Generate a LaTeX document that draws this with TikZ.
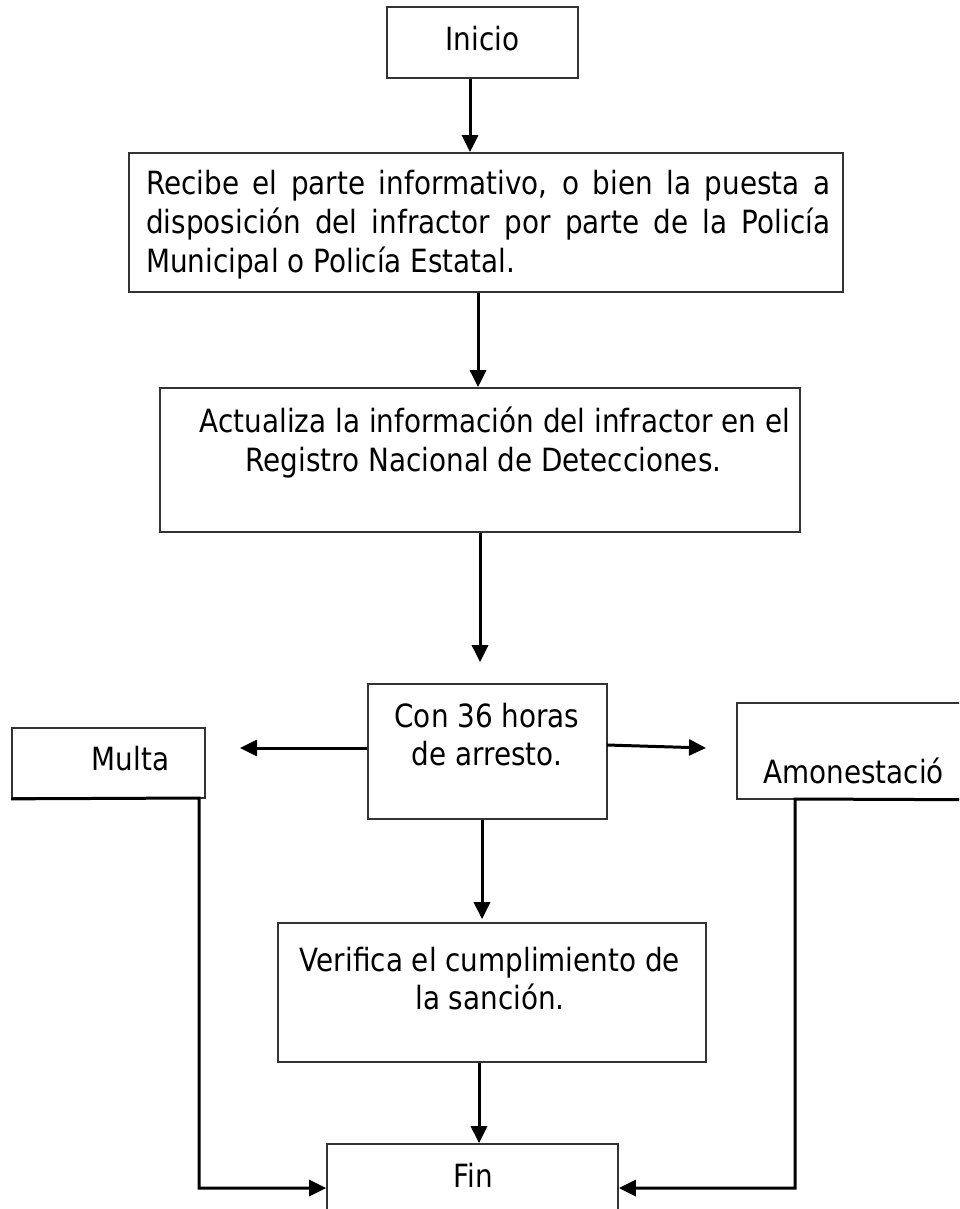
\documentclass[tikz,border=0pt]{standalone}
\usepackage{fontspec}
\setmainfont{DejaVu Sans}[FakeStretch=0.87]
\usetikzlibrary{arrows.meta}
\definecolor{boxgray}{HTML}{333333}
\begin{document}
\begin{tikzpicture}[x=1pt,y=-1pt,
  box/.style={draw=boxgray, line width=1.7pt, fill=white, inner sep=0pt},
  txt/.style={font=\fontsize{32}{38}\selectfont, inner sep=0pt, anchor=base},
  conn/.style={draw=black, line width=3pt, -{Triangle[length=17pt,width=16pt]}}]
\useasboundingbox (0,0) rectangle (959,1209);
\clip (0,0) rectangle (959,1209);
\fill[white] (0,0) rectangle (959,1209);

% boxes
\node[box, minimum width=191pt, minimum height=71pt] (inicio) at (482.5,42.5) {};
\node[box, minimum width=714pt, minimum height=139pt] (b2) at (486,222.5) {};
\node[box, minimum width=640pt, minimum height=144pt] (b3) at (480,460) {};
\node[box, minimum width=239pt, minimum height=135pt] (b4) at (487.5,751.5) {};
\node[box, minimum width=193pt, minimum height=70pt] (multa) at (108.5,763) {};
\node[box, minimum width=263pt, minimum height=96pt] (amon) at (868.5,751) {};
\node[box, minimum width=428pt, minimum height=139pt] (b5) at (492,992.5) {};
\node[box, minimum width=291pt, minimum height=90pt] (fin) at (472.5,1189) {};

% texts
\node[txt] (tinicio) at (482.5,51) {Inicio};
\node[txt, anchor=base west] (t2a) at (146,194) {\makebox[684pt][s]{Recibe el parte informativo, o bien la puesta a}};
\node[txt, anchor=base west] (t2b) at (146,233) {\makebox[684pt][s]{disposición del infractor por parte de la Policía}};
\node[txt, anchor=base west] (t2c) at (146,272) {Municipal o Policía Estatal.};
\node[txt] (t3a) at (495,432) {Actualiza la información del infractor en el};
\node[txt] (t3b) at (483.5,471) {Registro Nacional de Detecciones.};
\node[txt] (t4a) at (487,727) {Con 36 horas};
\node[txt] (t4b) at (487,765) {de arresto.};
\node[txt] (tmulta) at (130.5,770) {Multa};
\node[txt] (tamon) at (853.5,783) {Amonestació};
\node[txt] (t5a) at (490,971) {Verifica el cumplimiento de};
\node[txt] (t5b) at (490,1009) {la sanción.};
\node[txt] (tfin) at (473.5,1187) {Fin};

% helper coordinates
\coordinate (x470) at (470,0);
\coordinate (x478) at (478,0);
\coordinate (x480) at (480,0);
\coordinate (x482) at (482,0);
\coordinate (x479) at (479,0);
\coordinate (y748) at (0,748);
\coordinate (tipL) at (240,748);
\coordinate (startR) at (607,745);
\coordinate (tipR) at (706,748);
\coordinate (mcorner) at (199,798);
\coordinate (mturn) at (199,1188);
\coordinate (acorner) at (795,799);
\coordinate (aturn) at (795,1188);

% connectors
\draw[conn] (inicio.south -| x470) -- (b2.north -| x470);
\draw[conn] (b2.south -| x478) -- (b3.north -| x478);
\draw[conn, shorten >=21pt] (b3.south -| x480) -- (b4.north -| x480);
\draw[conn] (b4.west |- y748) -- (tipL);
\draw[conn] (startR) -- (tipR);
\draw[conn, shorten >=3pt] (b4.south -| x482) -- (b5.north -| x482);
\draw[conn] (b5.south -| x479) -- (fin.north -| x479);
\draw[conn] (multa.south west) -- (mcorner) -- (mturn) -- (fin.west |- mturn);
\draw[conn] (amon.south east) -- (acorner) -- (aturn) -- (fin.east |- aturn);
\end{tikzpicture}
\end{document}
